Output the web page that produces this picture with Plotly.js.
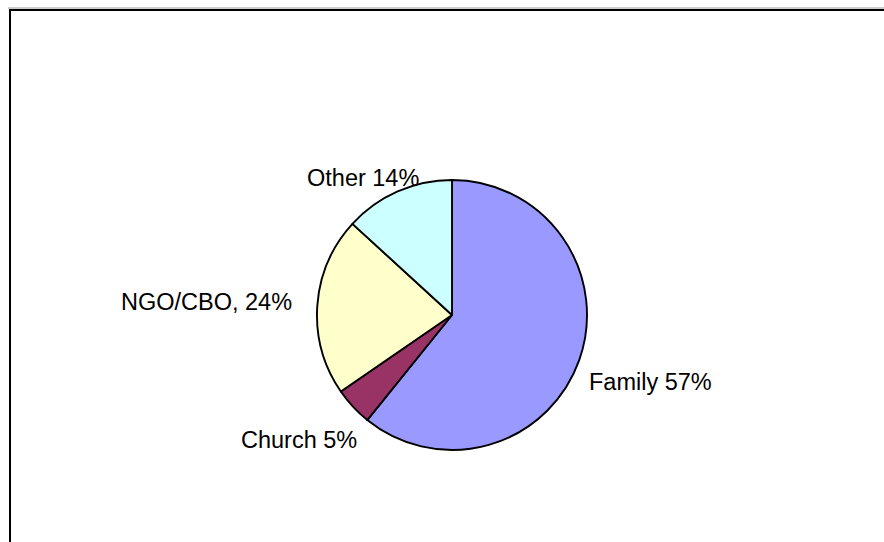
<!DOCTYPE html>
<html>
<head>
<meta charset="utf-8">
<script src="https://cdn.plot.ly/plotly-3.0.1.min.js"></script>
<style>html,body{margin:0;padding:0;background:#fff;}#chart{width:884px;height:542px;}</style>
</head>
<body>
<div id="chart"></div>
<script>
// Data (slice sizes as drawn, labels as printed)
const categories = ["Family", "Church", "NGO/CBO", "Other"];
const sliceValues = [60.8, 4.6, 21.4, 13.2];
const labelTexts = ["Family 57%", "Church 5%", "NGO/CBO, 24%", "Other 14%"];
const sliceColors = ["#9999FF", "#993366", "#FFFFCC", "#CCFFFF"];

const W = 884, H = 542;
const cx = 452, cy = 315, r = 135;

const trace = {
  type: "pie",
  labels: categories,
  values: sliceValues,
  sort: false,
  direction: "clockwise",
  rotation: 0,
  textinfo: "none",
  hoverinfo: "label+percent",
  marker: { colors: sliceColors, line: { color: "#000", width: 1.9 } },
  domain: { x: [(cx - r) / W, (cx + r) / W], y: [(H - cy - r) / H, (H - cy + r) / H] },
  showlegend: false
};

// label placements (paper px)
const labelPos = [
  { x: 587, y: 382, xanchor: "left" },
  { x: 359, y: 440, xanchor: "right" },
  { x: 294, y: 302, xanchor: "right" },
  { x: 305, y: 178, xanchor: "left" }
];

const annotations = labelTexts.map((t, i) => ({
  text: t,
  xref: "paper", yref: "paper",
  x: labelPos[i].x / W, y: 1 - labelPos[i].y / H,
  xanchor: labelPos[i].xanchor, yanchor: "middle",
  showarrow: false,
  font: { family: "Liberation Sans, Arial, sans-serif", size: 23.5, color: "#000" }
}));

const layout = {
  width: W, height: H,
  margin: { l: 0, r: 0, t: 0, b: 0 },
  paper_bgcolor: "#fff",
  plot_bgcolor: "#fff",
  annotations: annotations,
  shapes: [
    { type: "rect", xref: "paper", yref: "paper",
      x0: 10 / W, x1: 1.1, y0: -0.1, y1: 1 - 10 / H,
      line: { color: "#000", width: 2 }, fillcolor: "rgba(0,0,0,0)" },
    { type: "line", xref: "paper", yref: "paper",
      x0: 8 / W, x1: 1.1, y0: 1 - 8 / H, y1: 1 - 8 / H,
      line: { color: "#999", width: 1 } }
  ]
};

Plotly.newPlot("chart", [trace], layout, { staticPlot: true, displayModeBar: false });
</script>
</body>
</html>
